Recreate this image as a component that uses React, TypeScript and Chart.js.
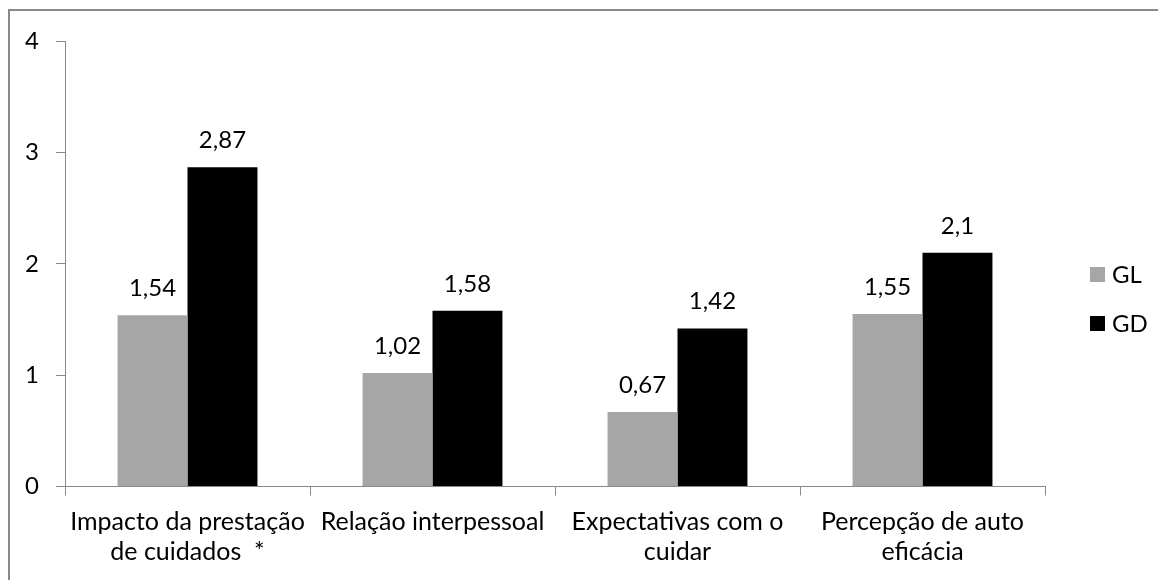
import React, { useEffect, useRef } from "react";
import { Chart, registerables } from "chart.js";

Chart.register(...registerables);

const categories: string[][] = [
  ["Impacto da prestação", "de cuidados  *"],
  ["Relação interpessoal"],
  ["Expectativas com o", "cuidar"],
  ["Percepção de auto", "eficácia"],
];
const glValues = [1.54, 1.02, 0.67, 1.55];
const gdValues = [2.87, 1.58, 1.42, 2.1];
const seriesNames = ["GL", "GD"];
const seriesColors = ["#a6a6a6", "#000000"];
const yTicks = [0, 1, 2, 3, 4];

const FONT = "Lato, 'Open Sans', sans-serif";
const FS = 24;
const FSX = 25;

const fmt = (v: number) => String(v).replace(".", ",");

const labelsPlugin = {
  id: "valueLabels",
  afterDatasetsDraw(chart: any) {
    const ctx = chart.ctx;
    ctx.save();
    ctx.font = `${FS}px ${FONT}`;
    ctx.fillStyle = "#000";
    ctx.textAlign = "center";
    ctx.textBaseline = "alphabetic";
    chart.data.datasets.forEach((ds: any, i: number) => {
      const meta = chart.getDatasetMeta(i);
      meta.data.forEach((bar: any, j: number) => {
        ctx.fillText(fmt(ds.data[j]), bar.x, bar.y - 19);
      });
    });
    // legend
    const lx = 1080;
    const ys = [264, 313];
    seriesNames.forEach((n, i) => {
      ctx.fillStyle = seriesColors[i];
      ctx.fillRect(lx, ys[i] - 7, 15, 15);
      ctx.fillStyle = "#000";
      ctx.textAlign = "left";
      ctx.textBaseline = "middle";
      ctx.fillText(n, lx + 22, ys[i] + 1);
    });
    ctx.restore();
  },
};

export default function App() {
  const ref = useRef<HTMLCanvasElement>(null);
  useEffect(() => {
    if (!ref.current) return;
    const chart = new Chart(ref.current, {
      type: "bar",
      data: {
        labels: categories as any,
        datasets: [
          {
            label: seriesNames[0],
            data: glValues,
            backgroundColor: seriesColors[0],
            categoryPercentage: 0.571,
            barPercentage: 1,
          },
          {
            label: seriesNames[1],
            data: gdValues,
            backgroundColor: seriesColors[1],
            categoryPercentage: 0.571,
            barPercentage: 1,
          },
        ],
      },
      options: {
        responsive: false,
        animation: false,
        layout: { padding: { left: 0, top: 30.5, right: 121, bottom: 0 } },
        plugins: { legend: { display: false }, tooltip: { enabled: false } },
        scales: {
          x: {
            grid: {
              offset: true,
              drawOnChartArea: false,
              tickLength: 9,
              color: "#888888",
            },
            border: { color: "#888888", width: 1 },
            ticks: {
              color: "#000",
              font: { family: FONT, size: FSX, lineHeight: "30px" },
              padding: 11,
              maxRotation: 0,
              autoSkip: false,
            },
            afterFit: (s: any) => {
              s.height = 93.5;
            },
          },
          y: {
            min: 0,
            max: 4,
            afterBuildTicks: (s: any) => {
              s.ticks = yTicks.map((v) => ({ value: v }));
            },
            grid: {
              drawOnChartArea: false,
              tickLength: 9,
              color: "#888888",
            },
            border: { color: "#888888", width: 1 },
            ticks: {
              color: "#000",
              font: { family: FONT, size: FS },
              padding: 17,
            },
            afterFit: (s: any) => {
              s.width = 55;
            },
          },
        },
      },
      plugins: [labelsPlugin],
    });
    return () => chart.destroy();
  }, []);
  return (
    <div style={{ position: "relative", width: 1158, height: 572 }}>
      <div
        style={{
          position: "absolute",
          left: 0,
          top: 1,
          right: 0,
          bottom: 0,
          borderLeft: "2px solid #8a8a8a",
          borderTop: "2px solid #8a8a8a",
        }}
      />
      <canvas
        ref={ref}
        width={1156}
        height={570}
        style={{ position: "absolute", left: 2, top: 2, width: 1156, height: 570 }}
      />
    </div>
  );
}
